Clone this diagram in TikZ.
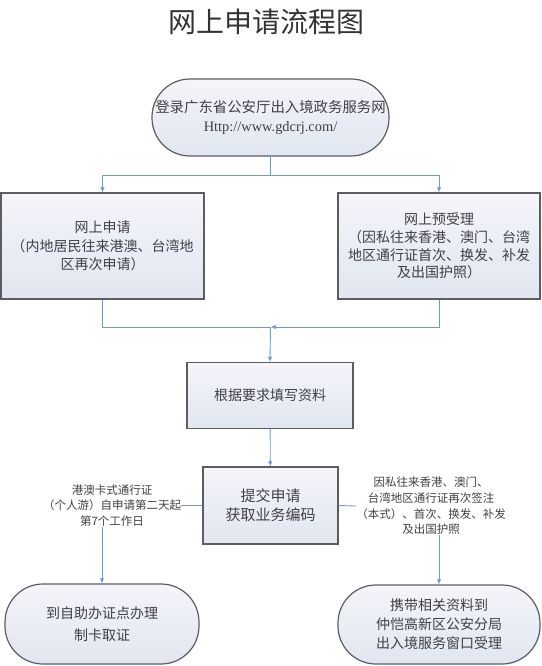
\documentclass[tikz,border=0pt]{standalone}
\usepackage{fontspec}
\setmainfont{Liberation Serif}
\newfontfamily\cjk{Noto Sans CJK SC}
\usetikzlibrary{arrows.meta}

\begin{document}
\begin{tikzpicture}[x=1pt,y=-1pt,
	box/.style={draw=cbd,line width=1.2pt,top color=cft,bottom color=cfb,text=ctx,align=center,inner sep=0pt,font=\cjk\fontsize{14}{18.5}\selectfont},
	pill/.style={box,rounded corners=38pt},
	note/.style={text=ctx,align=center,inner sep=0pt,font=\cjk\fontsize{11.5}{15.7}\selectfont},
	link/.style={draw=cln,line width=0.9pt},
	arrow/.style={link,-{Latex[length=5pt,width=4.5pt]}}]
			\definecolor{cbd}{rgb}{0.36,0.36,0.38}
			\definecolor{cft}{rgb}{0.96,0.96,0.98}
			\definecolor{cfb}{rgb}{0.88,0.90,0.94}
			\definecolor{ctx}{rgb}{0.25,0.25,0.27}
			\definecolor{ctl}{rgb}{0.20,0.20,0.20}
			\definecolor{cln}{rgb}{0.42,0.60,0.85}
			%
			\useasboundingbox (0,0) rectangle (541,666);
			%
			\node[text=ctl,font=\cjk\fontsize{28}{28}\selectfont] (title) at (266,22) {网上申请流程图};
			\node[pill,minimum width=237pt,minimum height=77pt,font=\cjk\fontsize{14.4}{19}\selectfont] (login) at (270.5,117.5) {登录广东省公安厅出入境政务服务网\\{\rmfamily Http://www.gdcrj.com/}};
			\node[box,minimum width=203pt,minimum height=106pt] (apply) at (102.5,246) {网上申请\\（内地居民往来港澳、台湾地\\区再次申请）};
			\node[box,minimum width=202pt,minimum height=106pt,font=\cjk\fontsize{14}{17.8}\selectfont] (prebook) at (439,246) {网上预受理\\（因私往来香港、澳门、台湾\\地区通行证首次、换发、补发\\及出国护照）};
			\node[box,minimum width=166pt,minimum height=66pt] (fill) at (270,395.5) {根据要求填写资料};
			\node[box,minimum width=135pt,minimum height=77pt,font=\cjk\fontsize{15}{19}\selectfont] (submit) at (270.5,505.5) {提交申请\\获取业务编码};
			\node[note] (noteL) at (112,505.5) {港澳卡式通行证\\（个人游）自申请第二天起\\第7个工作日};
			\node[note] (noteR) at (431,506) {因私往来香港、澳门、\\台湾地区通行证再次签注\\（本式）、首次、换发、补发\\及出国护照};
			\node[pill,minimum width=194pt,minimum height=80pt,font=\cjk\fontsize{14}{22}\selectfont] (selfsvc) at (102,624) {到自助办证点办理\\制卡取证};
			\node[pill,minimum width=202pt,minimum height=79pt,font=\cjk\fontsize{14}{19}\selectfont] (window) at (439,624.5) {携带相关资料到\\仲恺高新区公安分局\\出入境服务窗口受理};
			%
			\coordinate (split) at (270.5,175);
			\coordinate (merge) at (270.5,327);
			%
			\draw[link] (login) -- (split);
			\draw[arrow] (split) -| (apply.north);
			\draw[arrow] (split) -| (prebook.north);
			\draw[link] (apply.south) |- (merge);
			\draw[arrow] (prebook.south) |- (merge);
			\draw[arrow] (merge) -- (fill.north);
			\draw[arrow] (fill) -- (submit);
			\draw[link] (submit.west) -- (noteL.east);
			\draw[link] (submit.east) -- (noteR.west);
			\draw[arrow] (noteL.south -| selfsvc.north) -- (selfsvc.north);
			\draw[arrow] (noteR.south -| window.north) -- (window.north);
			%
\end{tikzpicture}
\end{document}
